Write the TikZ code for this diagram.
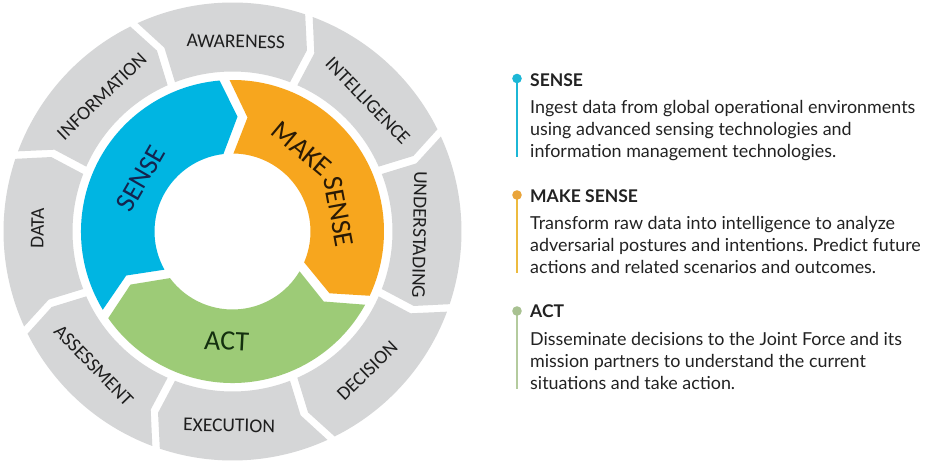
\documentclass[tikz,border=0pt]{standalone}
\usepackage{fontspec}
\setmainfont{Lato}
\newfontfamily\ringfont{Carlito}
\frenchspacing
\definecolor{senseblue}{HTML}{00B5E2}
\definecolor{makeorange}{HTML}{F7A61E}
\definecolor{actgreen}{HTML}{9DCB77}
\definecolor{ringgray}{HTML}{D5D6D7}
\definecolor{labink}{HTML}{1E1E1E}
\definecolor{sensetxt}{HTML}{14244F}
\definecolor{maketxt}{HTML}{2A1A05}
\definecolor{acttxt}{HTML}{14300F}
\definecolor{sensedot}{HTML}{1CB7D6}
\definecolor{makedot}{HTML}{E9A43A}
\definecolor{makeline}{HTML}{EDBB3F}
\definecolor{actdot}{HTML}{A8C191}
\definecolor{actline}{HTML}{B4CB9E}
\definecolor{bodyink}{HTML}{222222}
\tikzset{
  graylabel/.style={font=\ringfont\fontsize{19.5}{20}\selectfont, text=labink, inner sep=0pt},
  cyclelabel/.style={font=\ringfont\fontsize{28}{28}\selectfont, inner sep=0pt},
  legenddot/.style={circle, minimum size=9.6pt, inner sep=0pt},
  legendline/.style={line width=2.2pt},
  headlabel/.style={anchor=base west, inner sep=0pt, font=\fontsize{17.5}{20}\selectfont\bfseries, text=bodyink},
  bodylabel/.style={anchor=base west, inner sep=0pt, font=\fontsize{17.9}{21.7}\selectfont, text=bodyink}
}
% coloured chevron: colour, tail boundary angle, head boundary angle
\newcommand\colseg[3]{%
  \fill[#1] ({#2-1.9}:151.5pt) arc[start angle={#2-1.9}, end angle={#3+1.9}, radius=151.5pt]
    -- ({#3-8+2.5}:115pt) -- ({#3+3.7}:78pt)
    arc[start angle={#3+3.7}, end angle={#2-3.7}, radius=78pt]
    -- ({#2-8-2.5}:115pt) -- cycle;}
% grey chevron: centre angle
\newcommand\grayseg[1]{%
  \fill[ringgray] ({#1+22.5+3-1.0}:229pt) arc[start angle={#1+22.5+3-1.0}, end angle={#1-22.5+3+1.0}, radius=229pt]
    -- ({#1-22.5-1+1.17}:196pt) -- ({#1-22.5+1.43}:160pt)
    arc[start angle={#1-22.5+1.43}, end angle={#1+22.5-1.43}, radius=160pt]
    -- ({#1+22.5-1-1.17}:196pt) -- cycle;}
\begin{document}
\begin{tikzpicture}[x=1pt,y=1pt]
\useasboundingbox (0,0) rectangle (936,463);
\fill[white] (0,0) rectangle (936,463);
\begin{scope}[shift={(232.5,231.5)}]
  \foreach \c in {90,45,0,-45,-90,-135,-180,-225} {\grayseg{\c}}
  \colseg{senseblue}{213}{93}
  \colseg{makeorange}{93}{-27}
  \colseg{actgreen}{-27}{-147}
  % outer ring labels
  \node[graylabel, rotate=-1]  (awareness)    at (89:190pt)   {AWARENESS};
  \node[graylabel, rotate=-46] (intelligence) at (44:188pt)   {INTELLIGENCE};
  \node[graylabel, rotate=-91] (understading) at (-1:187pt)   {UNDERSTADING};
  \node[graylabel, rotate=44]  (decision)     at (-46:194pt)  {DECISION};
  \node[graylabel, rotate=-1]  (execution)    at (-91:194pt)  {EXECUTION};
  \node[graylabel, rotate=-46] (assessment)   at (224:193pt)  {ASSESSMENT};
  \node[graylabel, rotate=89]  (data)         at (179:195pt)  {DATA};
  \node[graylabel, rotate=44]  (information)  at (134:188pt)  {INFORMATION};
  % inner cycle labels
  \node[cyclelabel, text=sensetxt, rotate=60]    (senseLab) at (150:106pt)  {SENSE};
  \node[cyclelabel, text=maketxt, rotate=-40]    (makeLab)  at (50:108pt)   {MAKE};
  \node[cyclelabel, text=maketxt, rotate=-79.5]  (makeLabB) at (10.5:108pt) {SENSE};
  \node[cyclelabel, text=acttxt, rotate=-3]      (actLab)   at (267:110pt)  {ACT};
\end{scope}
% right-hand legend
\coordinate (senseEnd) at (517,306);
\coordinate (makeEnd) at (517,190);
\coordinate (actEnd) at (517,74);
\coordinate (senseTop) at (517,384.5);
\coordinate (makeTop) at (517,268);
\coordinate (actTop) at (517,152);
\draw[sensedot, legendline] (senseTop) -- (senseEnd);
\draw[makeline, legendline] (makeTop) -- (makeEnd);
\draw[actline, legendline] (actTop) -- (actEnd);
\node[legenddot, fill=sensedot] (senseDot) at (senseTop) {};
\node[legenddot, fill=makedot] (makeDot) at (makeTop) {};
\node[legenddot, fill=actdot] (actDot) at (actTop) {};
\node[headlabel] (senseHead) at (530,376) {SENSE};
\node[bodylabel] (senseBody) at (530,349)
  {\vtop{\baselineskip=21.7pt \hbox{Ingest data from global operational environments}\hbox{using advanced sensing technologies and}\hbox{information management technologies.}}};
\node[headlabel] (makeHead) at (530,260) {MAKE SENSE};
\node[bodylabel] (makeBody) at (530,233)
  {\vtop{\baselineskip=21.7pt \hbox{Transform raw data into intelligence to analyze}\hbox{adversarial postures and intentions. Predict future}\hbox{actions and related scenarios and outcomes.}}};
\node[headlabel] (actHead) at (530,145) {ACT};
\node[bodylabel] (actBody) at (530,117)
  {\vtop{\baselineskip=21.7pt \hbox{Disseminate decisions to the Joint Force and its}\hbox{mission partners to understand the current}\hbox{situations and take action.}}};
\end{tikzpicture}
\end{document}
